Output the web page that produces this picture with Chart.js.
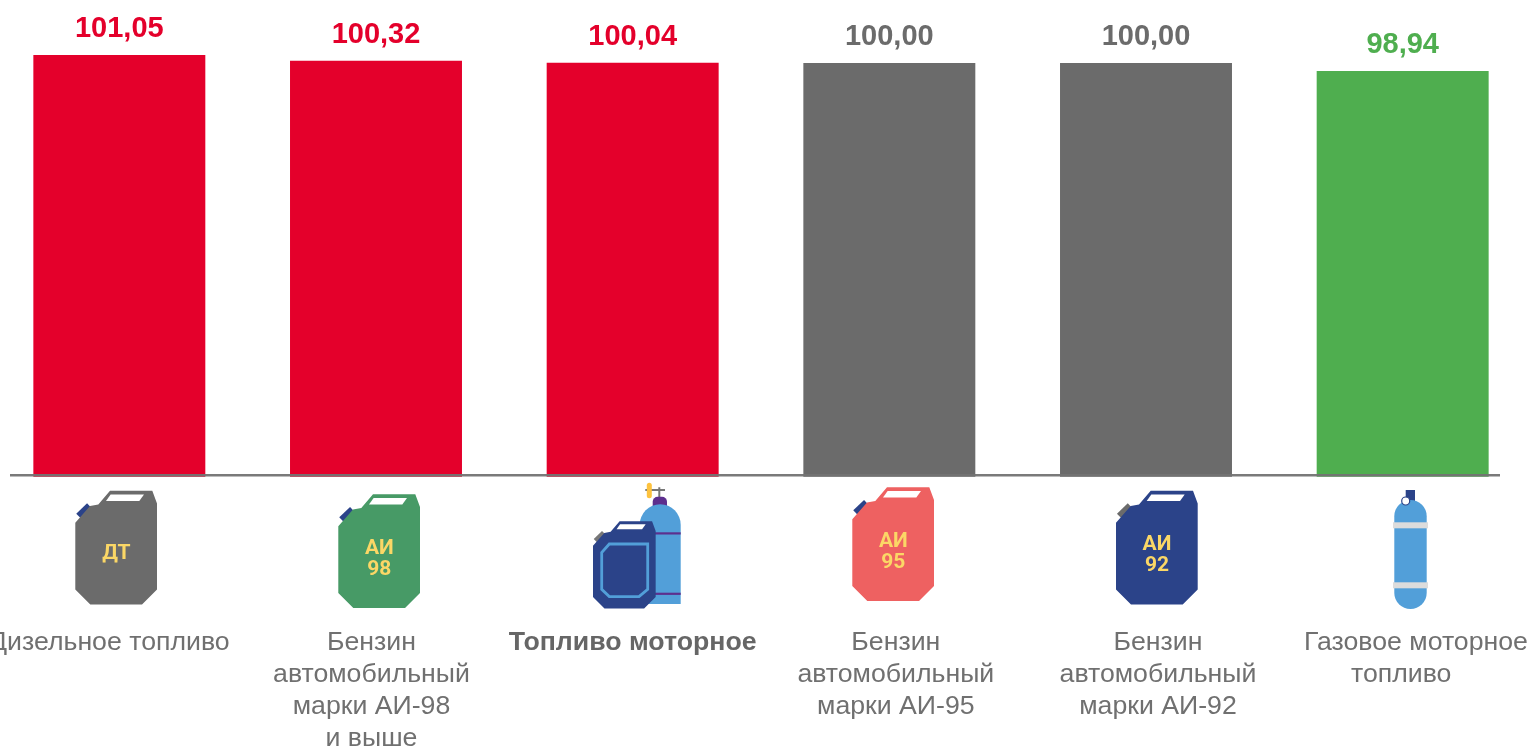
<!DOCTYPE html>
<html>
<head>
<meta charset="utf-8">
<style>
    html, body { margin: 0; padding: 0; background: #fff; width: 1529px; height: 747px; overflow: hidden; }
    canvas { position: absolute; left: -9px; top: 0; }
</style>
<script src="https://cdn.jsdelivr.net/npm/chart.js@4"></script>
</head>
<body>
<canvas id="fuelChart" width="1540" height="747"></canvas>
<script>
const categories = [
    ['Дизельное топливо'],
    ['Бензин', 'автомобильный', 'марки АИ-98', 'и выше'],
    ['Топливо моторное'],
    ['Бензин', 'автомобильный', 'марки АИ-95'],
    ['Бензин', 'автомобильный', 'марки АИ-92'],
    ['    Газовое моторное', 'топливо']
];
const values = [101.05, 100.32, 100.04, 100.00, 100.00, 98.94];
const barColors = ['#e4002b', '#e4002b', '#e4002b', '#6b6b6b', '#6b6b6b', '#4fae4f'];

// the source slide has its captions and icons slightly off the bar centres
const labelShift = [-10, -4.5, 0, 6.5, 12, -1.5];
const boldIndex = 2;

const NAVY = '#2b4389', BLUE = '#529fd9', PURPLE = '#5d2f8e', GREY = '#6b6b6b', YELLOW = '#fbd766';

function poly(ctx, pts) {
    ctx.beginPath();
    pts.forEach((p, i) => i ? ctx.lineTo(p[0], p[1]) : ctx.moveTo(p[0], p[1]));
    ctx.closePath();
}

// canister, drawn in an 82x114 box from its top left corner
function canister(ctx, x, y, color, capColor, lines, scale) {
    ctx.save();
    ctx.translate(x, y);
    ctx.scale(scale, scale);
    ctx.strokeStyle = capColor;
    ctx.lineWidth = 6.5;
    ctx.beginPath();
    ctx.moveTo(3.2, 25.3);
    ctx.lineTo(14, 15);
    ctx.stroke();
    ctx.fillStyle = color;
    poly(ctx, [[34.7, 0], [77, 0], [81.7, 12.7], [81.7, 98.7], [66.7, 113.7], [15, 113.7], [0, 98.7], [0, 32], [14.7, 15.3], [23, 13.7]]);
    ctx.fill();
    ctx.fillStyle = '#fff';
    poly(ctx, [[35.3, 3.7], [68.7, 3.7], [64, 10.3], [30.7, 10.3]]);
    ctx.fill();
    if (lines.length) {
        ctx.fillStyle = YELLOW;
        ctx.font = 'bold 21px Roboto';
        ctx.textAlign = 'center';
        ctx.textBaseline = 'middle';
        const y0 = lines.length === 1 ? 63.5 : 54;
        lines.forEach((t, i) => ctx.fillText(t, 41, y0 + i * 21));
    }
    ctx.restore();
}

function gasBottle(ctx) {
    ctx.fillStyle = NAVY;
    ctx.fillRect(1405.7, 490, 9.3, 12);
    ctx.fillStyle = BLUE;
    ctx.beginPath();
    ctx.roundRect(1394.3, 500, 32.4, 109, 16.2);
    ctx.fill();
    ctx.fillStyle = '#dcdcdc';
    ctx.fillRect(1393, 522.3, 35, 6);
    ctx.fillRect(1393, 582.3, 35, 6);
    ctx.fillStyle = '#fff';
    ctx.strokeStyle = NAVY;
    ctx.lineWidth = 1.2;
    ctx.beginPath();
    ctx.arc(1405.7, 501, 4, 0, Math.PI * 2);
    ctx.fill();
    ctx.stroke();
}

function mixedIcon(ctx) {
    // valve
    ctx.strokeStyle = '#777';
    ctx.lineWidth = 2;
    ctx.beginPath();
    ctx.moveTo(645.3, 490);
    ctx.lineTo(665, 490);
    ctx.moveTo(659.3, 487.3);
    ctx.lineTo(659.3, 497);
    ctx.stroke();
    ctx.fillStyle = '#fdc23e';
    ctx.beginPath();
    ctx.roundRect(646.8, 482.7, 5, 15.6, 2.5);
    ctx.fill();
    ctx.fillStyle = PURPLE;
    ctx.beginPath();
    ctx.roundRect(652.7, 496.7, 14.3, 10, [5, 5, 0, 0]);
    ctx.fill();
    // cylinder
    ctx.fillStyle = BLUE;
    ctx.beginPath();
    ctx.roundRect(639.7, 504.3, 41, 99.7, [20.5, 20.5, 0, 0]);
    ctx.fill();
    ctx.fillStyle = PURPLE;
    ctx.fillRect(650, 532.3, 30.7, 2.2);
    ctx.fillRect(650, 592.7, 30.7, 2.2);
    // canister in front
    canister(ctx, 593, 521.3, NAVY, '#777', [], 0.767);
    ctx.save();
    ctx.translate(593, 521.3);
    ctx.strokeStyle = BLUE;
    ctx.lineWidth = 2.8;
    poly(ctx, [[16.3, 22.7], [54.7, 22.7], [54.7, 68], [46, 75.3], [16.3, 75.3], [8.7, 68], [8.7, 31.3]]);
    ctx.stroke();
    ctx.restore();
}

const decorations = {
    id: 'decorations',
    afterLayout(chart) {
        // nudge the caption of each category, the scale itself stays regular
        const items = chart.scales.x.getLabelItems(chart.chartArea);
        items.forEach((it, i) => { it.options.translation[0] += labelShift[i]; });
    },
    afterDatasetsDraw(chart) {
        const ctx = chart.ctx;
        const meta = chart.getDatasetMeta(0);
        ctx.save();
        // chart canvas sits 9px left of the page, so page x is canvas x - 9
        ctx.translate(9, 0);

        // value labels
        ctx.font = 'bold 29px "Liberation Sans"';
        ctx.textAlign = 'center';
        ctx.textBaseline = 'alphabetic';
        meta.data.forEach((bar, i) => {
            ctx.fillStyle = barColors[i];
            ctx.fillText(values[i].toFixed(2).replace('.', ','), bar.x - 9, bar.y - 18);
        });

        // base line, runs over the bar feet
        ctx.fillStyle = 'rgba(115,115,115,0.95)';
        ctx.fillRect(10, 474, 1490, 2.5);

        canister(ctx, 75.3, 490.7, GREY, NAVY, ['ДТ'], 1);
        canister(ctx, 338.3, 494.3, '#479a66', NAVY, ['АИ', '98'], 1);
        mixedIcon(ctx);
        canister(ctx, 852.3, 487.3, '#ee6161', NAVY, ['АИ', '95'], 1);
        canister(ctx, 1116, 490.7, NAVY, GREY, ['АИ', '92'], 1);
        gasBottle(ctx);
        ctx.restore();
    }
};

new Chart(document.getElementById('fuelChart'), {
    type: 'bar',
    data: {
        labels: categories,
        datasets: [{
            data: values,
            backgroundColor: barColors,
            borderWidth: 0,
            categoryPercentage: 1,
            barPercentage: 0.67
        }]
    },
    options: {
        responsive: false,
        animation: false,
        layout: { padding: 0 },
        plugins: { legend: { display: false }, tooltip: { enabled: false } },
        scales: {
            y: { display: false, min: 45.56, max: 108.3 },
            x: {
                afterFit: (scale) => {
                    // the big tick padding must not eat into the plot width
                    scale.height = 270.3;
                    scale.paddingLeft = 0;
                    scale.paddingRight = 0;
                },
                grid: { display: false, drawTicks: false },
                border: { display: false },
                ticks: {
                    autoSkip: false,
                    maxRotation: 0,
                    minRotation: 0,
                    padding: 150,
                    color: (ctx) => ctx.index === boldIndex ? '#666666' : '#707070',
                    font: (ctx) => ({
                        family: '"Liberation Sans"',
                        size: 26.7,
                        lineHeight: 32 / 26.7,
                        weight: ctx.index === boldIndex ? 'bold' : 'normal'
                    })
                }
            }
        }
    },
    plugins: [decorations]
});
</script>
</body>
</html>
